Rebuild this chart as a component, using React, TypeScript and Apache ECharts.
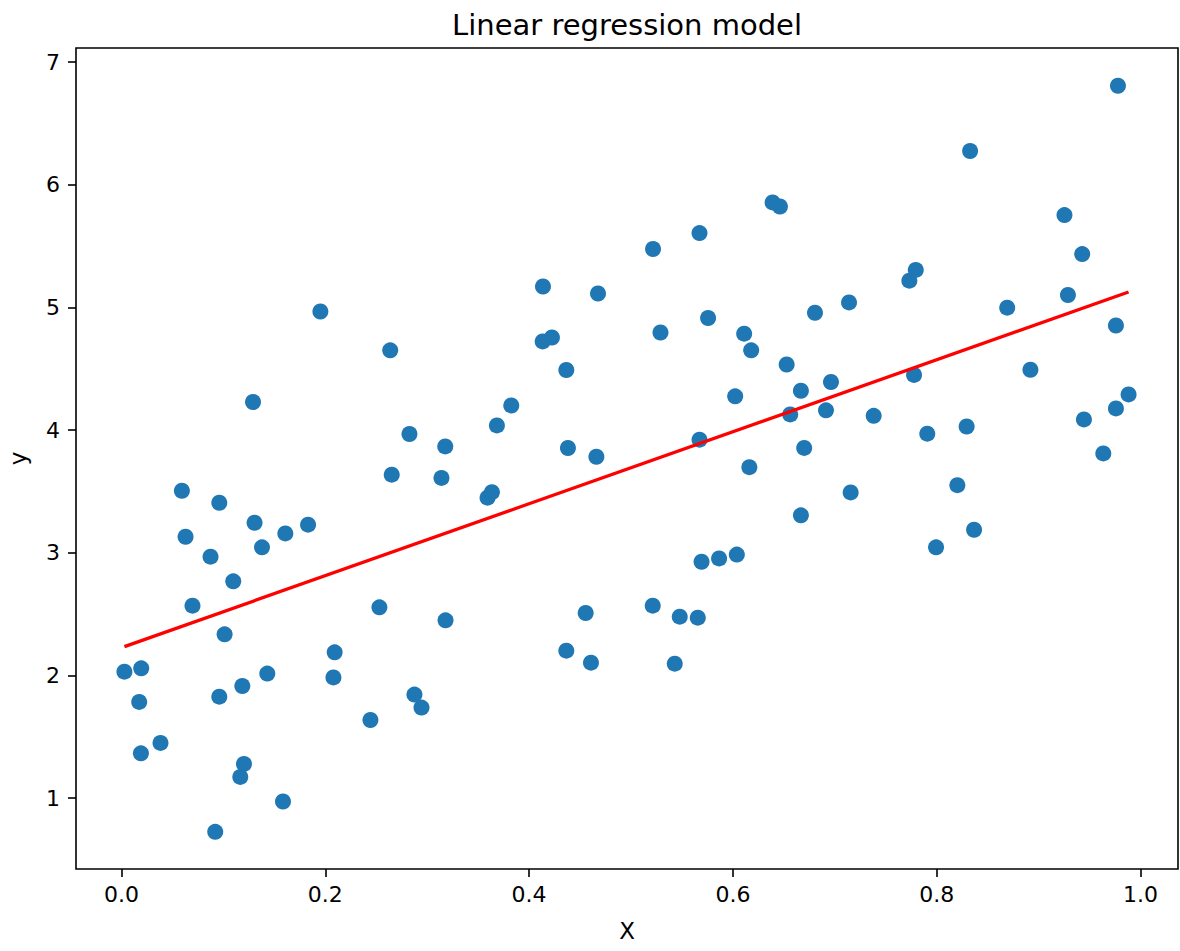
import React, { useEffect, useRef } from "react";
import * as echarts from "echarts";

const chartTitle = "Linear regression model";
const xName = "X";
const yName = "y";

const xTicks = [0.0, 0.2, 0.4, 0.6, 0.8, 1.0];
const yTicks = [1, 2, 3, 4, 5, 6, 7];

const xValues = [
  0.0029, 0.0194, 0.0174, 0.0191, 0.0383, 0.0593, 0.0629, 0.0697, 0.0874, 0.096,
  0.096, 0.092, 0.1012, 0.1097, 0.1186, 0.1202, 0.1166, 0.1291, 0.1306, 0.1379,
  0.1431, 0.1608, 0.1585, 0.1831, 0.1952, 0.2092, 0.208, 0.2443, 0.2531, 0.2637,
  0.2652, 0.2826, 0.2875, 0.2944, 0.314, 0.3177, 0.318, 0.3592, 0.3635, 0.3684,
  0.3825, 0.4136, 0.4133, 0.4224, 0.4365, 0.4381, 0.4365, 0.4555, 0.4607, 0.466,
  0.4676, 0.5216, 0.5213, 0.5289, 0.5429, 0.5478, 0.5655, 0.5672, 0.5672, 0.5692,
  0.5756, 0.5864, 0.6022, 0.6038, 0.611, 0.6179, 0.6161, 0.6389, 0.6461, 0.6527,
  0.6562, 0.6667, 0.6667, 0.6699, 0.6805, 0.6913, 0.6962, 0.7139, 0.7155, 0.7381,
  0.7731, 0.7794, 0.7777, 0.7907, 0.7993, 0.8202, 0.8293, 0.8327, 0.8366, 0.8691,
  0.8919, 0.9253, 0.9287, 0.9427, 0.9444, 0.9634, 0.9758, 0.9758, 0.9778, 0.9882,
];

const yValues = [
  2.031, 2.058, 1.784, 1.365, 1.45, 3.506, 3.131, 2.569, 2.968, 3.408,
  1.827, 0.725, 2.335, 2.767, 1.914, 1.279, 1.173, 4.229, 3.245, 3.044,
  2.015, 3.158, 0.972, 3.229, 4.967, 2.188, 1.984, 1.637, 2.555, 4.65,
  3.637, 3.968, 1.844, 1.738, 3.61, 3.867, 2.449, 3.449, 3.494, 4.038,
  4.201, 5.171, 4.723, 4.755, 4.49, 3.854, 2.202, 2.509, 2.104, 3.783,
  5.114, 5.476, 2.569, 4.796, 2.096, 2.479, 2.471, 5.606, 3.922, 2.927,
  4.914, 2.954, 4.275, 2.985, 4.786, 4.65, 3.698, 5.856, 5.823, 4.535,
  4.128, 4.321, 3.305, 3.855, 4.957, 4.161, 4.392, 5.041, 3.492, 4.116,
  5.218, 5.306, 4.45, 3.971, 3.044, 3.551, 4.029, 6.275, 3.188, 4.998,
  4.492, 5.753, 5.101, 5.435, 4.087, 3.81, 4.853, 4.177, 6.807, 4.291,
];

const lineX = [0.0029, 0.9882];
const lineY = [2.235, 5.126];

const FONT = "DejaVu Sans";

export default function App() {
  const ref = useRef<HTMLDivElement>(null);

  useEffect(() => {
    if (!ref.current) return;
    const chart = echarts.init(ref.current, undefined, { renderer: "svg" });
    const scatterData = xValues.map((x, i) => [x, yValues[i]]);
    const lineData = lineX.map((x, i) => [x, lineY[i]]);

    chart.setOption({
      animation: false,
      backgroundColor: "#ffffff",
      title: {
        text: chartTitle,
        left: 622,
        top: 5,
        textAlign: "center",
        textStyle: {
          fontFamily: FONT,
          fontSize: 29,
          fontWeight: "normal",
          color: "#000",
        },
      },
      grid: {
        left: 76,
        top: 48,
        width: 1102,
        height: 821,
        containLabel: false,
        outerBoundsMode: "none",
        show: true,
        borderColor: "#000",
        borderWidth: 1.6,
        backgroundColor: "transparent",
      },
      xAxis: {
        type: "value",
        min: -0.0446,
        max: 1.0367,
        name: xName,
        nameLocation: "middle",
        nameGap: 50,
        nameTextStyle: { fontFamily: FONT, fontSize: 23, color: "#000" },
        axisLine: { show: false, onZero: false },
        splitLine: { show: false },
        axisTick: {
          show: true,
          length: 8,
          inside: false,
          lineStyle: { color: "#000", width: 1.6 },
          customValues: xTicks,
        },
        axisLabel: {
          show: true,
          fontFamily: FONT,
          fontSize: 22,
          color: "#000",
          margin: 14,
          customValues: xTicks,
          formatter: (v: number) => v.toFixed(1),
        },
      },
      yAxis: {
        type: "value",
        min: 0.422,
        max: 7.115,
        name: yName,
        nameLocation: "middle",
        nameGap: 47,
        nameRotate: 90,
        nameTextStyle: { fontFamily: FONT, fontSize: 23, color: "#000" },
        axisLine: { show: false, onZero: false },
        splitLine: { show: false },
        axisTick: {
          show: true,
          length: 8,
          inside: false,
          lineStyle: { color: "#000", width: 1.6 },
          customValues: yTicks,
        },
        axisLabel: {
          show: true,
          fontFamily: FONT,
          fontSize: 22,
          color: "#000",
          margin: 16,
          customValues: yTicks,
          formatter: (v: number) => String(Math.round(v)),
        },
      },
      series: [
        {
          type: "scatter",
          data: scatterData,
          symbol: "circle",
          symbolSize: 16,
          itemStyle: { color: "#1f77b4", opacity: 1 },
          z: 2,
        },
        {
          type: "line",
          data: lineData,
          showSymbol: false,
          symbol: "none",
          lineStyle: { color: "#ff0000", width: 3.3 },
          z: 3,
        },
      ],
    });

    return () => {
      chart.dispose();
    };
  }, []);

  return (
    <div
      ref={ref}
      style={{ position: "absolute", left: 0, top: 0, width: 1180, height: 951 }}
    />
  );
}
